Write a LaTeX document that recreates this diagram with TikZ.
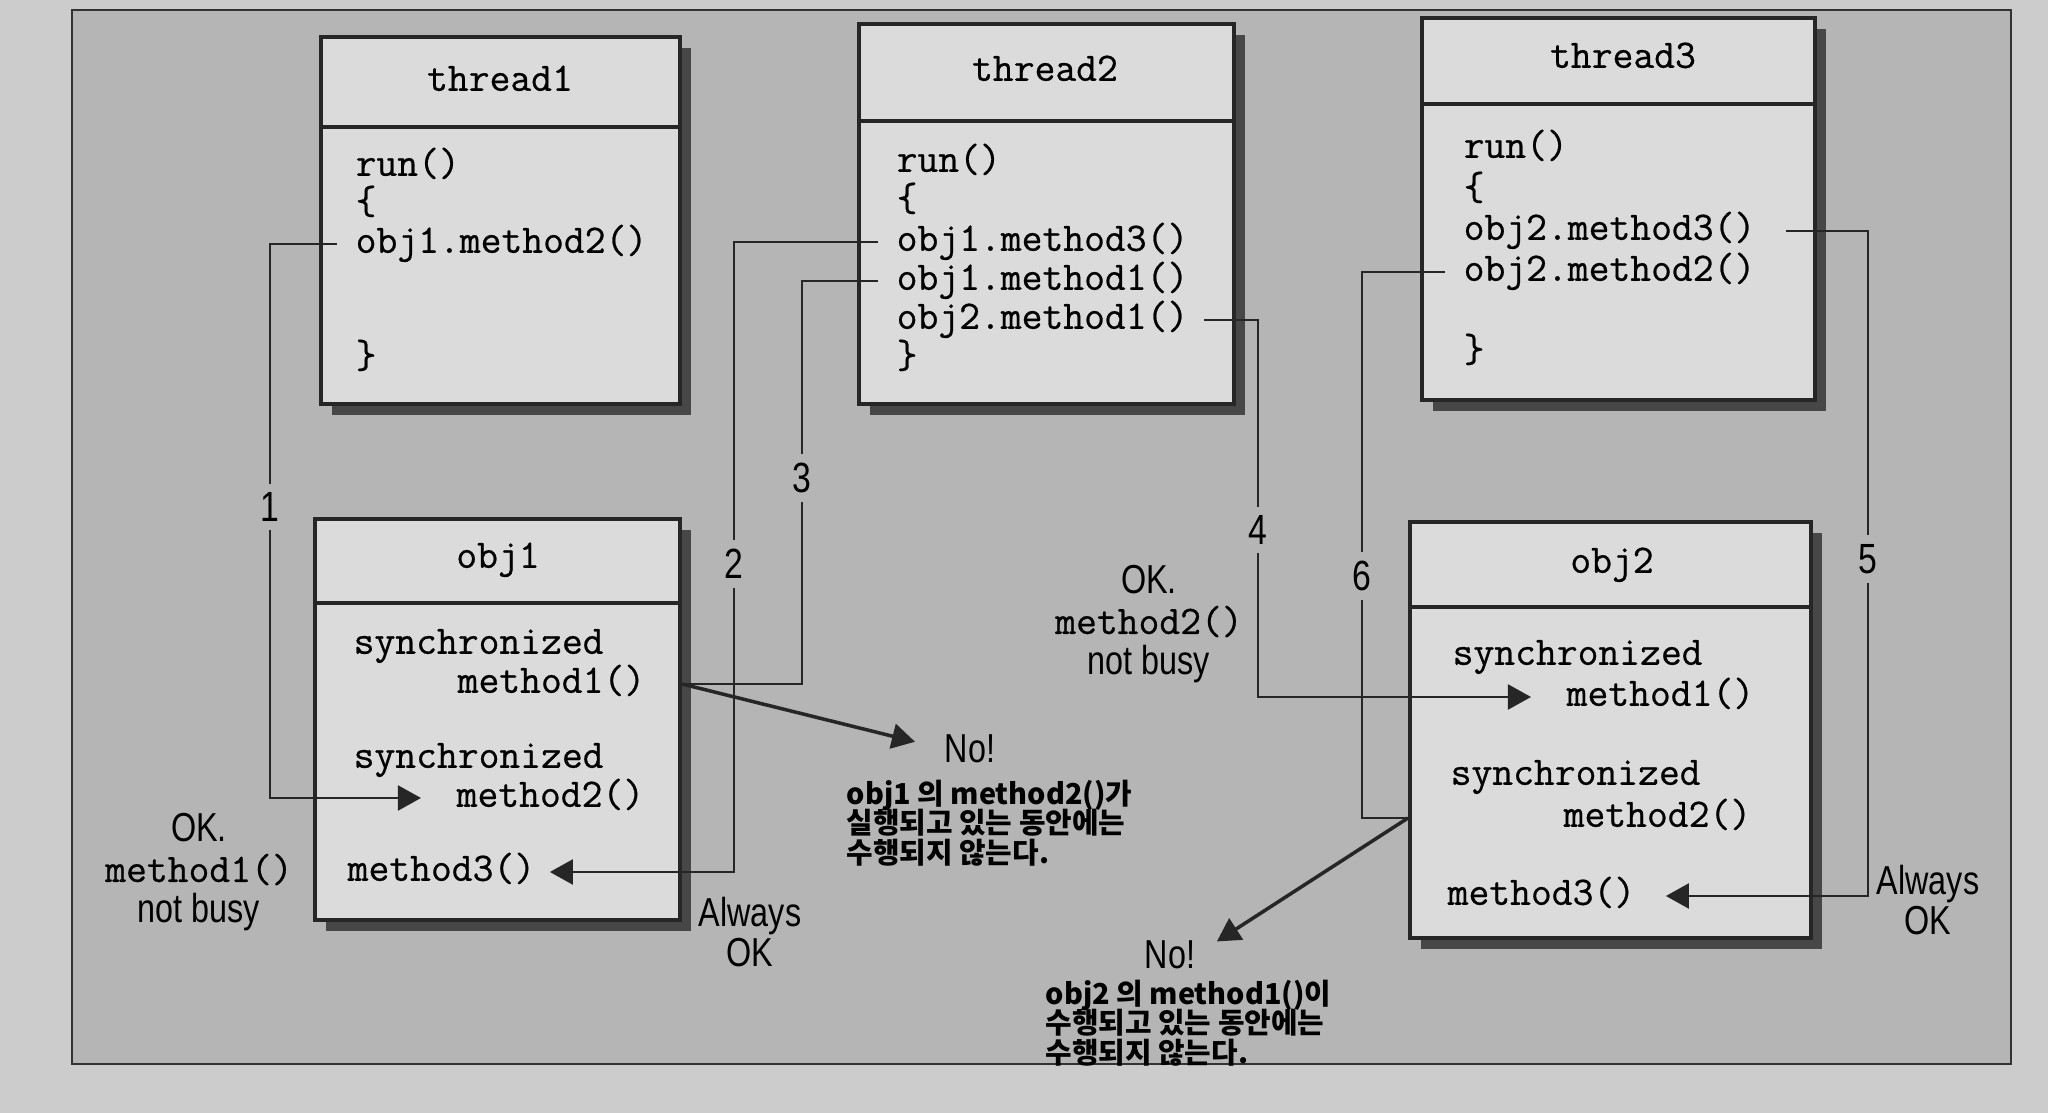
\documentclass[tikz,border=0pt]{standalone}
\usepackage{fontspec}
\setsansfont[FakeStretch=0.8]{Liberation Sans}
\setmonofont[FakeBold=0.6]{Latin Modern Mono}
\newfontfamily\krfont{Noto Sans CJK KR}
\newcommand\kortight{\lineskiplimit=-6pt\relax}
\usepackage{xcolor}
\usetikzlibrary{arrows.meta,shadows}
\definecolor{outer}{gray}{0.80}
\definecolor{panel}{gray}{0.71}
\definecolor{boxfill}{gray}{0.86}

\begin{document}
\begin{tikzpicture}[
  x=0.01cm, y=-0.01cm, >={Triangle[length=2.3mm, width=2.5mm]},
  box/.style={draw=black!85, line width=1.1pt, fill=boxfill, anchor=north west, inner sep=0pt,
    drop shadow={shadow xshift=1.1mm, shadow yshift=-1.1mm, fill=black!72, opacity=1}},
  divider/.style={draw=black!85, line width=0.9pt},
  code/.style={font=\fontsize{11.5}{13}\selectfont\ttfamily, inner sep=0pt, text height=0.75em, text depth=0.25em},
  wire/.style={draw=black!85, line width=0.6pt},
  num/.style={font=\fontsize{12}{13}\selectfont\sffamily, fill=panel, inner sep=2.5pt},
  note/.style={font=\fontsize{11.5}{11.4}\selectfont\sffamily, align=center, inner sep=0pt},
  kor/.style={font=\fontsize{8.2}{8.5}\selectfont\krfont\bfseries\kortight, align=left, anchor=north west, inner sep=0pt}]
\useasboundingbox (0,0) rectangle (2048,1113);
\fill[outer] (0,0) rectangle (2048,1113);
\draw[black!80, line width=0.8pt, fill=panel] (72,10) rectangle (2011,1064);

% threads
\node[box, minimum width=3.59cm, minimum height=3.67cm] (t1) at (319,35) {};
\draw[divider] ([yshift=-0.92cm]t1.north west) -- ([yshift=-0.92cm]t1.north east);
\node[code] (t1name) at (500,82) {thread1};
\node[code, anchor=west] (t1run) at (355,167) {run()};
\node[code, anchor=west] (t1open) at (355,205) {\{};
\node[code, anchor=west] (t1m2) at (355,244) {obj1.method2()};
\node[code, anchor=west] (t1close) at (355,359) {\}};

\node[box, minimum width=3.75cm, minimum height=3.80cm] (t2) at (857,22) {};
\draw[divider] ([yshift=-0.99cm]t2.north west) -- ([yshift=-0.99cm]t2.north east);
\node[code] (t2name) at (1045,72) {thread2};
\node[code, anchor=west] (t2run) at (896,163) {run()};
\node[code, anchor=west] (t2open) at (896,202) {\{};
\node[code, anchor=west] (t2m3) at (896,242) {obj1.method3()};
\node[code, anchor=west] (t2m1) at (896,281) {obj1.method1()};
\node[code, anchor=west] (t2o2m1) at (896,320) {obj2.method1()};
\node[code, anchor=west] (t2close) at (896,359) {\}};

\node[box, minimum width=3.93cm, minimum height=3.82cm] (t3) at (1420,16) {};
\draw[divider] ([yshift=-0.88cm]t3.north west) -- ([yshift=-0.88cm]t3.north east);
\node[code] (t3name) at (1623,59) {thread3};
\node[code, anchor=west] (t3run) at (1463,149) {run()};
\node[code, anchor=west] (t3open) at (1463,191) {\{};
\node[code, anchor=west] (t3m3) at (1463,231) {obj2.method3()};
\node[code, anchor=west] (t3m2) at (1463,272) {obj2.method2()};
\node[code, anchor=west] (t3close) at (1463,353) {\}};

% objects
\node[box, minimum width=3.65cm, minimum height=4.01cm] (o1) at (313,517) {};
\draw[divider] ([yshift=-0.86cm]o1.north west) -- ([yshift=-0.86cm]o1.north east);
\node[code] (o1name) at (498,559) {obj1};
\node[code, anchor=west] (o1sync1) at (353,645) {synchronized};
\node[code, anchor=west] (o1m1) at (457,684) {method1()};
\node[code, anchor=west] (o1sync2) at (353,759) {synchronized};
\node[code, anchor=west] (o1m2) at (456,798) {method2()};
\node[code, anchor=west] (o1m3) at (347,872) {method3()};

\node[box, minimum width=4.01cm, minimum height=4.16cm] (o2) at (1408,520) {};
\draw[divider] ([yshift=-0.87cm]o2.north west) -- ([yshift=-0.87cm]o2.north east);
\node[code] (o2name) at (1612,564) {obj2};
\node[code, anchor=west] (o2sync1) at (1452,656) {synchronized};
\node[code, anchor=west] (o2m1) at (1566,697) {method1()};
\node[code, anchor=west] (o2sync2) at (1450,776) {synchronized};
\node[code, anchor=west] (o2m2) at (1563,818) {method2()};
\node[code, anchor=west] (o2m3) at (1447,896) {method3()};

% calls
\coordinate (k1) at (270,507);
\coordinate (k2) at (734,564);
\coordinate (k3) at (802,478);
\coordinate (k4) at (1258,530);
\coordinate (k5) at (1868,559);
\coordinate (k6) at (1362,576);
\coordinate (x1) at (o1m1 -| o1.east);
\coordinate (x2) at (o2m2 -| o2.west);
\draw[wire, ->, shorten >=3.5mm] ([xshift=-1.8mm]t1m2.west) -| (k1) |- (o1m2.west);
\draw[wire, ->, shorten >=1.4mm] ([xshift=-1.8mm]t2m3.west) -| (k2) |- (o1m3.east);
\draw[wire] ([xshift=-1.8mm]t2m1.west) -| (k3) |- (x1);
\draw[wire, ->, shorten >=3.5mm] ([xshift=1.5mm]t2o2m1.east) -| (k4) |- (o2m1.west);
\draw[wire, ->, shorten >=3mm] ([xshift=3mm]t3m3.east) -| (k5) |- (o2m3.east);
\draw[wire] ([xshift=-1.8mm]t3m2.west) -| (k6) |- (x2);
\node[num] (n1) at (k1) {1};
\node[num] (n2) at (k2) {2};
\node[num] (n3) at (k3) {3};
\node[num] (n4) at (k4) {4};
\node[num] (n5) at (k5) {5};
\node[num] (n6) at (k6) {6};

% remarks
\node[note] (ok1) at (199,872) {OK.\\{\ttfamily method1()}\\not busy};
\node[note] (al1) at (750,932) {Always\\OK};
\node[note] (ok2) at (1149,624) {OK.\\{\ttfamily method2()}\\not busy};
\node[note] (al2) at (1928,900) {Always\\OK};
\node[note] (no1) at (970,749) {No!};
\node[note] (no2) at (1170,955) {No!};
\node[kor] (kr1) at (846,779) {obj1 의 method2()가\\실행되고 있는 동안에는\\수행되지 않는다.};
\node[kor] (kr2) at (1045,979) {obj2 의 method1()이\\수행되고 있는 동안에는\\수행되지 않는다.};
\draw[wire, line width=1pt, ->, shorten >=3mm] (x1) -- (no1.west);
\draw[wire, line width=1pt, ->, shorten >=2.5mm] (x2) -- (no2.east);
\end{tikzpicture}
\end{document}
